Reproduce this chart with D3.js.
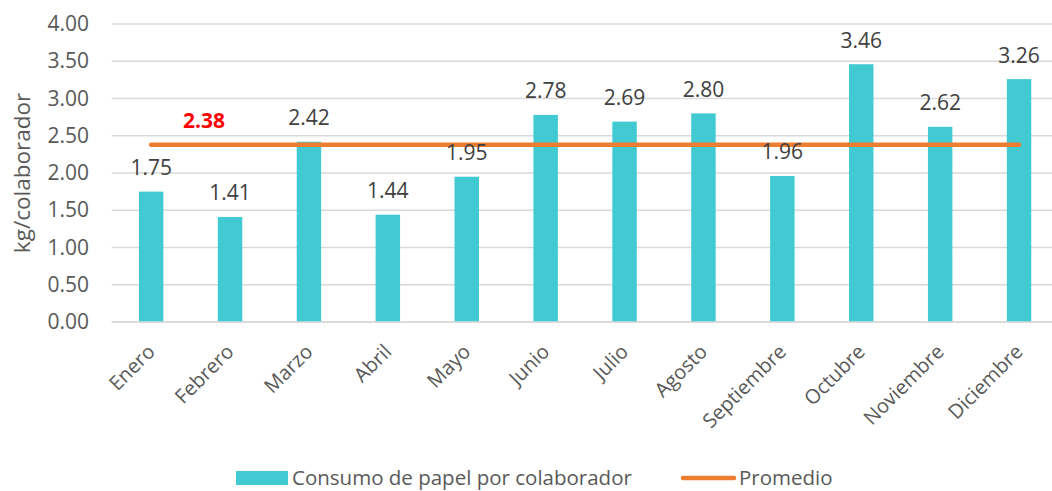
<!DOCTYPE html>
<html>
<head>
<meta charset="utf-8">
<script src="https://cdn.jsdelivr.net/npm/d3@7"></script>
<style>
  body { margin: 0; background: #fff; }
  svg text { font-family: "Open Sans", "DejaVu Sans", sans-serif; }
</style>
</head>
<body>
<svg id="chart" width="1052" height="491"></svg>
<script>
// data
var months = ["Enero", "Febrero", "Marzo", "Abril", "Mayo", "Junio", "Julio",
              "Agosto", "Septiembre", "Octubre", "Noviembre", "Diciembre"];
var consumo = [1.75, 1.41, 2.42, 1.44, 1.95, 2.78, 2.69, 2.80, 1.96, 3.46, 2.62, 3.26];
var promedio = 2.38;
var yTicks = [0, 0.5, 1, 1.5, 2, 2.5, 3, 3.5, 4];
var seriesNames = ["Consumo de papel por colaborador", "Promedio"];

var barColor = "#42CAD2", lineColor = "#ED7D31", textColor = "#595959";

var svg = d3.select("#chart");
var W = 1052;

var x = d3.scaleBand().domain(months).range([111.7, 1058.5]).paddingInner(0.69).paddingOuter(0.345);
var y = d3.scaleLinear().domain([0, 4]).range([322, 24]);

// gridlines
svg.append("g").selectAll("line")
  .data(yTicks)
  .enter().append("line")
    .attr("x1", 111.7).attr("x2", W)
    .attr("y1", function(d) { return y(d); })
    .attr("y2", function(d) { return y(d); })
    .attr("stroke", "#D9D9D9").attr("stroke-width", 1.3);

// y axis labels
var yAxis = d3.axisLeft(y).tickValues(yTicks).tickFormat(d3.format(".2f")).tickSize(0).tickPadding(0);
var gy = svg.append("g").attr("transform", "translate(89,0)").call(yAxis);
gy.select(".domain").remove();
gy.selectAll("text").attr("fill", textColor).style("font-size", "21px")
  .attr("font-family", "'Open Sans', sans-serif");

// y title
svg.append("text")
  .attr("transform", "translate(30,173) rotate(-90)")
  .attr("text-anchor", "middle")
  .attr("fill", textColor)
  .style("font-size", "22.5px")
  .text("kg/colaborador");

// bars
svg.append("g").selectAll("rect")
  .data(consumo)
  .enter().append("rect")
    .attr("x", function(d, i) { return x(months[i]); })
    .attr("y", function(d) { return y(d); })
    .attr("width", x.bandwidth())
    .attr("height", function(d) { return y(0) - y(d); })
    .attr("fill", barColor);

// average line
var line = d3.line()
  .x(function(d) { return x(d) + x.bandwidth() / 2; })
  .y(function() { return y(promedio); });
svg.append("path")
  .datum([months[0], months[months.length - 1]])
  .attr("d", line)
  .attr("fill", "none")
  .attr("stroke", lineColor)
  .attr("stroke-width", 4.5)
  .attr("stroke-linecap", "round");

// bar value labels (drawn over the line, like Excel)
svg.append("g").selectAll("text")
  .data(consumo)
  .enter().append("text")
    .attr("x", function(d, i) { return x(months[i]) + x.bandwidth() / 2; })
    .attr("y", function(d) { return y(d) - 16.5; })
    .attr("text-anchor", "middle")
    .attr("fill", "#404040")
    .style("font-size", "21px")
    .text(function(d) { return d.toFixed(2); });

svg.append("text")
  .attr("x", 204).attr("y", 128)
  .attr("text-anchor", "middle")
  .attr("fill", "#FF0000")
  .attr("font-weight", "bold")
  .style("font-size", "21px")
  .text(promedio.toFixed(2));

// x axis
var xAxis = d3.axisBottom(x).tickSize(0).tickPadding(0);
var gx = svg.append("g").attr("transform", "translate(0,322)").call(xAxis);
gx.select(".domain").attr("stroke", "#D9D9D9").attr("stroke-width", 1.3)
  .attr("d", "M111.7,0H" + W);
gx.selectAll("text")
  .attr("fill", textColor)
  .style("font-size", "20px")
  .attr("font-family", "'Open Sans', sans-serif")
  .attr("text-anchor", "end")
  .attr("dy", null)
  .attr("y", 0)
  .attr("transform", "translate(5,31) rotate(-45)");

// legend
var lg = svg.append("g");
lg.append("rect").attr("x", 236).attr("y", 471).attr("width", 52).attr("height", 14).attr("fill", barColor);
lg.append("text").attr("x", 292).attr("y", 485).attr("fill", textColor).style("font-size", "20.5px").text(seriesNames[0]);
lg.append("line").attr("x1", 683).attr("x2", 734).attr("y1", 478).attr("y2", 478)
  .attr("stroke", lineColor).attr("stroke-width", 4.5).attr("stroke-linecap", "round");
lg.append("text").attr("x", 739).attr("y", 485).attr("fill", textColor).style("font-size", "20.5px").text(seriesNames[1]);
</script>
</body>
</html>
